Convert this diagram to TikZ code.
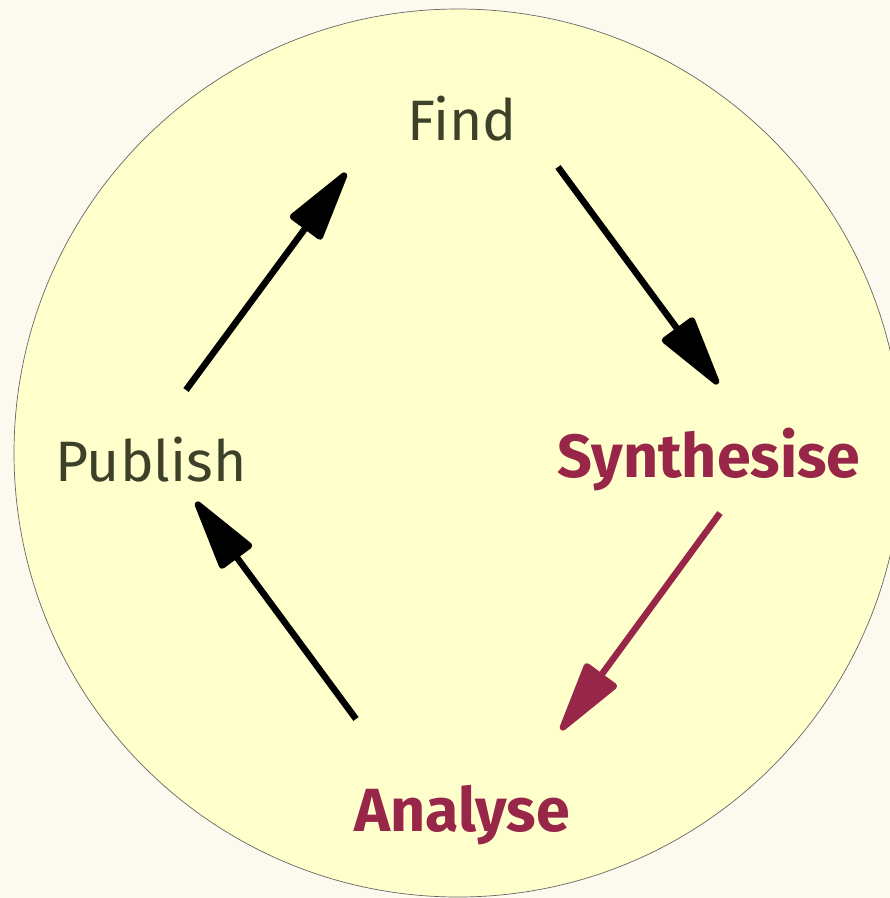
\documentclass[tikz,border=0pt]{standalone}
\usepackage{fontspec}
\setmainfont{Fira Sans}
\usetikzlibrary{arrows.meta}
\definecolor{bgcol}{HTML}{FCFAEF}
\definecolor{circfill}{HTML}{FFFFCC}
\definecolor{txtcol}{HTML}{3E4129}
\definecolor{hicol}{HTML}{982649}
\tikzset{
  lbl/.style={text=txtcol, font=\fontsize{57}{66}\selectfont, inner sep=0pt},
  hilbl/.style={text=hicol, font=\fontsize{61}{70}\selectfont\bfseries, inner sep=0pt},
  flow/.style={line width=6.5pt, -{Triangle[length=80pt,width=40pt,round]}},
  hiflow/.style={flow, draw=hicol, fill=hicol},
}
\begin{document}
\begin{tikzpicture}[x=1pt,y=-1pt]
\fill[bgcol] (0,0) rectangle (890,898);
\useasboundingbox (0,0) rectangle (890,898);
\begin{scope}
\clip (0,0) rectangle (890,898);
\draw[gray!80!black, line width=0.7pt, fill=circfill] (458,453) circle (444);
\end{scope}
\node[lbl] (find) at (462,119) {Find};
\node[lbl] (publish) at (151,460) {Publish};
\node[hilbl] (synth) at (709,460) {Synthesise};
\node[hilbl] (analyse) at (462,815) {Analyse};
\coordinate (p1) at (186,390);
\coordinate (p2) at (346,173);
\coordinate (f1) at (558,167);
\coordinate (f2) at (718,384);
\coordinate (s1) at (720,513);
\coordinate (s2) at (561,730);
\coordinate (a1) at (356,719);
\coordinate (a2) at (196,502);
\draw[flow] (p1) -- (p2);
\draw[flow] (f1) -- (f2);
\draw[hiflow] (s1) -- (s2);
\draw[flow] (a1) -- (a2);
\end{tikzpicture}
\end{document}
